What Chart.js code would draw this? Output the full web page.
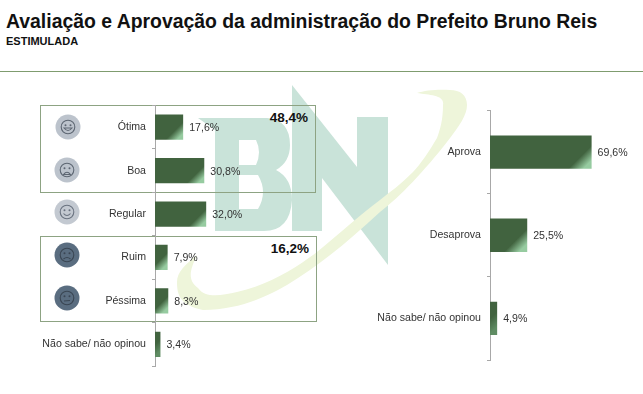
<!DOCTYPE html>
<html>
<head>
<meta charset="utf-8">
<script src="https://cdn.jsdelivr.net/npm/chart.js@4"></script>
<style>
html, body { margin: 0; padding: 0; background: #fff; }
body { width: 643px; height: 394px; position: relative; overflow: hidden; font-family: "Liberation Sans", Arial, sans-serif; color: #111; }
#titulo { position: absolute; left: 6px; top: 10px; font-size: 19.4px; font-weight: bold; white-space: nowrap; }
#sub { position: absolute; left: 6px; top: 35px; font-size: 11px; font-weight: bold; }
#linha { position: absolute; left: 0; top: 71px; width: 643px; height: 1px; background: #7f9c6f; }
.marca { position: absolute; left: 0; top: 0; }
.caixa { position: absolute; border: 1px solid #8da383; box-sizing: border-box; }
.total { position: absolute; font-size: 13.5px; font-weight: bold; text-align: right; }
canvas { position: absolute; }
#rostos { filter: blur(0.4px); }
</style>
</head>
<body>
<svg class="marca" width="643" height="394">
  <path fill="#c9e3d9" fill-rule="evenodd" d="M198 118 L267 118 Q290 120 290 145 Q290 162 276 170 Q292 178 292 200 Q290 231 264 231 L215 231 L215 130 Z M239 140 L239 165 L256 165 Q262 152 256 140 Z M239 175 L239 209 L258 209 Q268 192 258 175 Z"/>
  <path fill="#c9e3d9" d="M292 85 L357 167 L357 117 L388 117 L388 265 L322 178 L322 231 L292 231 Z"/>
  <path fill="#eef5da" d="M417 93 C430 95 445 95 443 105 C443 120 440 130 437 138 C430 150 420 165 413 172 C400 185 390 192 380 200 C360 215 340 233 317 252 C300 265 270 285 237 292 C220 296 205 298 198 288 C187 280 190 270 197 255 C185 265 177 272 177 282 C177 295 180 305 203 310 C240 310 270 295 287 285 C320 265 350 240 380 212 C400 197 425 170 447 142 C460 125 467 115 467 105 C467 95 460 90 450 90 C440 89 425 90 417 93 Z"/>
</svg>

<div id="titulo">Avaliação e Aprovação da administração do Prefeito Bruno Reis</div>
<div id="sub">ESTIMULADA</div>
<div id="linha"></div>

<div class="caixa" style="left:40px;top:105px;width:276px;height:88px"></div>
<div class="caixa" style="left:40px;top:236px;width:277px;height:86px"></div>
<div class="total" style="left:249px;top:110px;width:59px">48,4%</div>
<div class="total" style="left:250px;top:241px;width:59px">16,2%</div>

<canvas id="graficoAvaliacao" style="left:0;top:100px"></canvas>
<canvas id="graficoAprovacao" style="left:330px;top:105px"></canvas>

<svg class="marca" width="643" height="394" id="rostos"></svg>

<script>
const avaliacaoLabels = ['Ótima', 'Boa', 'Regular', 'Ruim', 'Péssima', 'Não sabe/ não opinou']
const avaliacaoValues = [17.6, 30.8, 32.0, 7.9, 8.3, 3.4]
const aprovacaoLabels = ['Aprova', 'Desaprova', 'Não sabe/ não opinou']
const aprovacaoValues = [69.6, 25.5, 4.9]

function virgula(v) {
    return v.toFixed(1).replace('.', ',') + '%'
}

// degradê a 45 graus, só o canto inferior direito fica claro
function corBarra(context) {
    const { chart, dataIndex, dataset } = context
    if (!chart.chartArea) return '#41633f'
    const x0 = chart.scales.x.getPixelForValue(0)
    const x1 = chart.scales.x.getPixelForValue(dataset.data[dataIndex])
    const y1 = chart.scales.y.getPixelForValue(dataIndex) + dataset.barH / 2
    const d = dataset.barH * 0.45
    const g = chart.ctx.createLinearGradient(x1 - d, y1 - d, x1, y1)
    g.addColorStop(0, '#41633f')
    // barras bem estreitas quase nao clareiam
    g.addColorStop(1, x1 - x0 < 10 ? '#5f8c63' : '#96cba0')
    return g
}

const rotulosBarra = {
    id: 'rotulosBarra',
    afterDatasetsDraw(chart) {
        const ctx = chart.ctx
        const meta = chart.getDatasetMeta(0)
        ctx.save()
        ctx.font = '10.6px "Liberation Sans", Arial, sans-serif'
        ctx.fillStyle = '#333'
        ctx.textBaseline = 'middle'
        meta.data.forEach((bar, i) => {
            ctx.fillText(virgula(chart.data.datasets[0].data[i]), bar.x + 6, bar.y + 1)
        })
        ctx.restore()
    }
}

function criaGrafico(id, labels, values, w, h, eixoX, barRatio, barH, padTop, padBottom) {
    const el = document.getElementById(id)
    el.width = w
    el.height = h
    el.style.width = w + 'px'
    el.style.height = h + 'px'
    return new Chart(el, {
        type: 'bar',
        data: {
            labels: labels,
            datasets: [{
                data: values,
                barH: barH,
                backgroundColor: corBarra,
                barPercentage: barRatio,
                categoryPercentage: 1
            }]
        },
        options: {
            indexAxis: 'y',
            responsive: false,
            animation: false,
            layout: { padding: { top: padTop, bottom: padBottom, left: 0, right: 0 } },
            plugins: { legend: { display: false }, tooltip: { enabled: false } },
            scales: {
                x: { display: false, min: 0, max: 100 },
                y: {
                    afterFit: scale => {
                        scale.width = eixoX
                        scale.paddingTop = 0
                        scale.paddingBottom = 0
                    },
                    border: { color: '#a8a8a8', width: 1 },
                    grid: { drawOnChartArea: false, drawTicks: true, tickLength: 3, color: '#a8a8a8' },
                    ticks: {
                        color: '#333',
                        padding: 6,
                        font: { family: '"Liberation Sans", Arial, sans-serif', size: 10.6 }
                    }
                }
            }
        },
        plugins: [rotulosBarra]
    })
}

criaGrafico('graficoAvaliacao', avaliacaoLabels, avaliacaoValues, 315, 275, 155, 0.58, 12.5, 5.5, 9)
criaGrafico('graficoAprovacao', aprovacaoLabels, aprovacaoValues, 306, 262, 160, 0.4, 16.5, 5.5, 7)

// rostinhos das categorias
const rostos = [
    { x: 68, y: 127, fundo: '#bcc3cc', traco: '#5d6672', boca: 'M-4 1 Q0 6 4 1 Z' },
    { x: 67, y: 170, fundo: '#bcc3cc', traco: '#5d6672', boca: 'M-3.5 4.5 Q0 0 3.5 4.5 Z' },
    { x: 67, y: 212, fundo: '#c3c9d1', traco: '#6a7380', boca: 'M-3.5 1.5 Q0 5.5 3.5 1.5' },
    { x: 67, y: 255, fundo: '#5a6d80', traco: '#3a4653', boca: 'M-3.5 4 Q0 1 3.5 4' },
    { x: 67, y: 298, fundo: '#5a6d80', traco: '#3a4653', boca: 'M-3 3 L3 2.5' }
]
const rostosSvg = document.getElementById('rostos')
rostos.forEach(r => {
    rostosSvg.innerHTML += `<g transform="translate(${r.x} ${r.y})">
        <circle r="12.5" fill="${r.fundo}"/>
        <circle r="6.8" fill="none" stroke="${r.traco}" stroke-width="1.1"/>
        <circle cx="-2.5" cy="-1.8" r="1" fill="${r.traco}"/>
        <circle cx="2.5" cy="-1.8" r="1" fill="${r.traco}"/>
        <path d="${r.boca}" fill="none" stroke="${r.traco}" stroke-width="1.1"/>
    </g>`
})
</script>
</body>
</html>
